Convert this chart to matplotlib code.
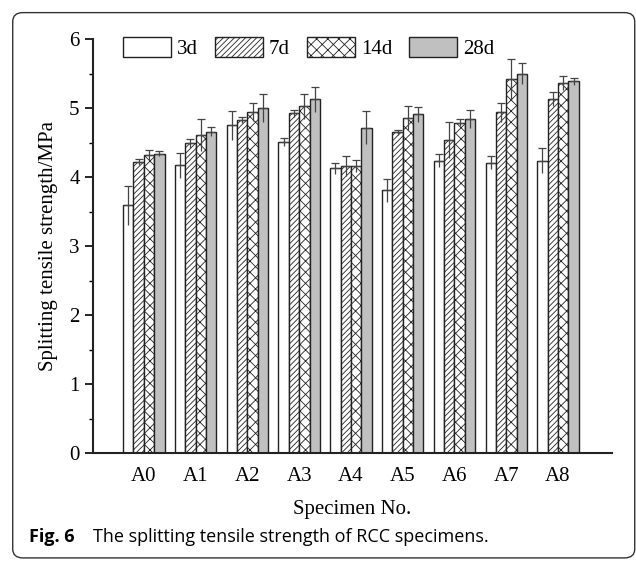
import numpy as np
import matplotlib.pyplot as plt
from matplotlib.patches import FancyBboxPatch

specimens = ["A0", "A1", "A2", "A3", "A4", "A5", "A6", "A7", "A8"]
ages = ["3d", "7d", "14d", "28d"]

# mean splitting tensile strength (MPa)
strength_3d = [3.59, 4.17, 4.75, 4.51, 4.13, 3.81, 4.24, 4.21, 4.24]
strength_7d = [4.22, 4.49, 4.83, 4.93, 4.16, 4.65, 4.54, 4.94, 5.13]
strength_14d = [4.32, 4.61, 4.94, 5.03, 4.16, 4.86, 4.79, 5.42, 5.37]
strength_28d = [4.34, 4.66, 5.00, 5.13, 4.72, 4.91, 4.84, 5.50, 5.39]

# standard deviations
err_3d = [0.28, 0.18, 0.21, 0.06, 0.08, 0.17, 0.09, 0.09, 0.18]
err_7d = [0.04, 0.07, 0.04, 0.05, 0.15, 0.04, 0.26, 0.14, 0.10]
err_14d = [0.07, 0.23, 0.13, 0.18, 0.09, 0.17, 0.05, 0.30, 0.10]
err_28d = [0.04, 0.07, 0.20, 0.18, 0.24, 0.11, 0.13, 0.15, 0.05]

plt.rcParams['font.family'] = ['Liberation Serif', 'DejaVu Serif']
plt.rcParams['hatch.linewidth'] = 0.6

fig = plt.figure(figsize=(6.36, 5.61), dpi=100)
ax = fig.add_axes([0.146, 0.1925, 0.816, 0.7375])

x = np.arange(len(specimens))
width = 0.2
series = [strength_3d, strength_7d, strength_14d, strength_28d]
errors = [err_3d, err_7d, err_14d, err_28d]
colors = ["white", "white", "white", "#c0c0c0"]
hatches = [None, "//////", "xxx", None]

for i, (vals, errs) in enumerate(zip(series, errors)):
    pos = x + (i - 1.5) * width
    ax.bar(pos, vals, width, color=colors[i], edgecolor="#222222", linewidth=1.0,
           hatch=hatches[i], label=ages[i], zorder=2)
    # lower half of the error bar runs inside the bar, no cap
    ax.errorbar(pos, vals, yerr=[errs, np.zeros(len(errs))], fmt="none",
                ecolor="#444444", elinewidth=0.9, capsize=0, zorder=3)
    ax.errorbar(pos, vals, yerr=[np.zeros(len(errs)), errs], fmt="none",
                ecolor="#444444", elinewidth=0.9, capsize=3, capthick=0.9, zorder=3)

ax.set_xlim(-0.985, 9.04)
ax.set_ylim(0, 6)
ax.set_xticks(x)
ax.set_xticklabels(specimens)
ax.set_yticks(range(7))
ax.set_yticks(np.arange(0.5, 6, 1), minor=True)
ax.tick_params(axis="x", length=0, labelsize=15, pad=10)
ax.tick_params(axis="y", which="major", direction="out", length=6, width=1.2, labelsize=15)
ax.tick_params(axis="y", which="minor", direction="out", length=3, width=1.0)
for s in ["top", "right"]:
    ax.spines[s].set_visible(False)
for s in ["left", "bottom"]:
    ax.spines[s].set_linewidth(1.5)
    ax.spines[s].set_color("#222222")

ax.set_ylabel("Splitting tensile strength/MPa", fontsize=15, labelpad=8)
ax.set_xlabel("Specimen No.", fontsize=15, labelpad=10)

ax.legend(loc="upper left", bbox_to_anchor=(0.058, 1.006), ncol=4, frameon=False,
          fontsize=15, handlelength=2.3, handleheight=1.15, handletextpad=0.3,
          columnspacing=0.8, borderpad=0, borderaxespad=0)

# figure caption and frame
cap_font = ["Open Sans", "DejaVu Sans"]
fig.text(0.045, 0.033, "Fig. 6", fontsize=13, fontweight="bold",
         family=cap_font, va="baseline")
fig.text(0.146, 0.033, "The splitting tensile strength of RCC specimens.", fontsize=13,
         family=cap_font, va="baseline")
frame = FancyBboxPatch((0.02, 0.0055), 0.978, 0.972, boxstyle="round,pad=0,rounding_size=0.016",
                       transform=fig.transFigure, fill=False, edgecolor="#333333",
                       linewidth=1.0, clip_on=False)
fig.patches.append(frame)

fig.savefig("out.png", dpi=100)
